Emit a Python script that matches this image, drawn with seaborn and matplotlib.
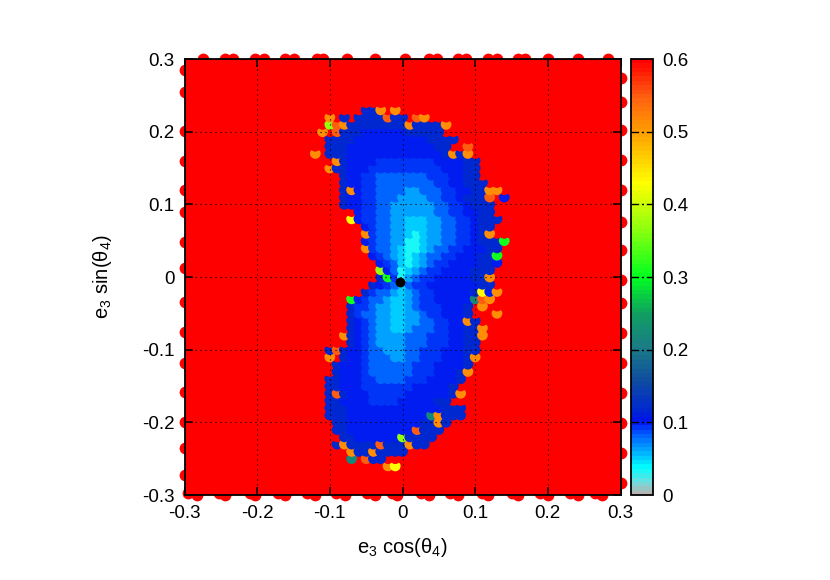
import matplotlib
matplotlib.use("Agg")
import matplotlib.pyplot as plt
from matplotlib.cm import ScalarMappable
from matplotlib.colors import LinearSegmentedColormap, Normalize
import pandas as pd
import seaborn as sns

# Rows of the map: one string per y (in 0.01 steps),
# first character is x = -0.13, one character per 0.01 in x.
ROW_Y_TOP = 24
ROW_X_LEFT = -13
ROWS = [
    "",
    "........ggO.O",
    "...O.g.ggggRgg.RO",
    "...LROggggggggOggggO",
    "..O.Rgggffffffggggg",
    "...ggggffffffffffgggg",
    "...gggffffffffffffgg..R",
    ".O.gggfffffffffffffgOgO",
    "....Ogffffeeeeeeeeffffgg",
    "...Oggfffeeeeeeeeeefffgg",
    ".....gffeedddddddeeeffgg",
    ".....gffeeddddddddeeffggg",
    ".....gOfeeddddccdddeeffggOO",
    ".....gffeedddccccddeefgggR.f",
    ".....gffeeddccccccddeefggg",
    ".......feeddccccccddeeffgg",
    "......Yfeeddccbbbccddeefggg",
    "........feddccbbbccddeefgg",
    "........OeddccbabccddeefgO",
    "........feddccaabccddeefgggG",
    "........Oeddcbaabcddeefffgg",
    ".........fedcbabcddeefffggG",
    "..........fedbabcdeeffffggf",
    "..........Lfdabcdeeffffggg",
    "..........gGeacdeefffffggO",
    ".........gfedbdeefffffffgg",
    "........geddcbcdeefffffgYfO",
    "......GfeddcbbcdeefffffTRO",
    "......geedccbbcdeeefffg.O",
    "......geddccbbccdeefffg...O",
    "......gfedccbbccddeeffOg",
    "......gfedccbbcdddeeffggO",
    ".....OgfedccccdddeeeffggO",
    "......gfedccccdddeeeffgg",
    "...gRgffeddcccddeeefffgg",
    "...O.gffedddccddeeefffgO",
    "....gfffeddddddeeeffffg",
    "....gfffeddddddeeefffgO",
    "...ggfffeeddddeeeffffg",
    "...ggfffeeeeeeefffffg",
    "...gRgfffeeeeeffffffgO",
    "...ggffffeeeefffffgg",
    "...gggfffffffffffffggg",
    "...gggfffffffffffTOggg",
    "....ggffffffffffggOg",
    "....ggfffffffffRggg",
    ".....ggffffffLgggg",
    "....gOggggRgggOgg",
    "......OggOgggg",
    "......T.Rgg",
    "...........OY",
]
ROW_LENGTH = 29
LEVELS = {
    ".": 0.6, "a": 0.035, "b": 0.05, "c": 0.065, "d": 0.08, "e": 0.09,
    "f": 0.1, "g": 0.115, "T": 0.22, "G": 0.31, "L": 0.37, "Y": 0.43,
    "O": 0.515, "R": 0.55,
}

# Red points poking out past the frame
TOP_X = [-0.274, -0.244, -0.233, -0.203, -0.191, -0.162, -0.150, -0.118, -0.109,
         -0.077, -0.038, 0.003, 0.036, 0.047, 0.077, 0.088, 0.118, 0.130, 0.159,
         0.168, 0.200, 0.241, 0.283]
BOTTOM_X = [-0.283, -0.244, -0.203, -0.162, -0.120, -0.079, -0.038, -0.008, 0.036,
            0.077, 0.118, 0.159, 0.200, 0.241, 0.274]
BOTTOM_X2 = [-0.295, -0.253, -0.210, -0.171, -0.132, -0.091, -0.049, -0.015, 0.026,
             0.065, 0.109, 0.150, 0.189, 0.230, 0.265]
LEFT_Y = [0.285, 0.255, 0.201, 0.160, 0.120, 0.089, 0.048, 0.012, -0.034, -0.076,
          -0.118, -0.158, -0.200, -0.235, -0.272]
RIGHT_Y = [0.274, 0.241, 0.202, 0.161, 0.120, 0.076, 0.037, -0.004, -0.036, -0.077,
           -0.118, -0.160, -0.201, -0.242, -0.283]
BLACK_X = [-0.004]
BLACK_Y = [-0.007]

MAIN_TICKS = [-0.3, -0.2, -0.1, 0, 0.1, 0.2, 0.3]
MAIN_LABELS = ["-0.3", "-0.2", "-0.1", "0", "0.1", "0.2", "0.3"]
CB_TICKS = [0, 0.1, 0.2, 0.3, 0.4, 0.5, 0.6]
CB_LABELS = ["0", "0.1", "0.2", "0.3", "0.4", "0.5", "0.6"]
X_LABEL = "e$_3$ cos(θ$_4$)"
Y_LABEL = "e$_3$ sin(θ$_4$)"

PALETTE = [
    (0.0, "#b4b4b4"), (0.015, "#70dcdc"), (0.035, "#00ffff"), (0.055, "#00b4ff"),
    (0.08, "#0060ff"), (0.1, "#0010ee"), (0.115, "#0028d0"), (0.16, "#10509c"),
    (0.2, "#1a7a88"), (0.25, "#10a060"), (0.3, "#00ff20"), (0.36, "#80ff10"),
    (0.43, "#ffff00"), (0.5, "#ffa000"), (0.55, "#ff6010"), (0.6, "#ff0000"),
]

sns.set_theme(style="white", rc={"axes.unicode_minus": False})
plt.rcParams["font.family"] = ["Liberation Sans", "DejaVu Sans"]
plt.rcParams["mathtext.fontset"] = "custom"
plt.rcParams["mathtext.rm"] = "Liberation Sans"
plt.rcParams["mathtext.default"] = "regular"

W, H = 830, 580
MARK = 60
fig = plt.figure(figsize=(W / 100, H / 100), dpi=100)
ax = fig.add_axes([184.5 / W, (H - 495) / H, 436 / W, 436 / H])
cax = fig.add_axes([631 / W, (H - 495) / H, 22 / W, 436 / H])

cmap = LinearSegmentedColormap.from_list("pal", [(v / 0.6, c) for v, c in PALETTE], N=100)
norm = Normalize(0, 0.6)

records = []
for i, row in enumerate(ROWS):
    y = (ROW_Y_TOP - i) / 100
    for j, ch in enumerate(row.ljust(ROW_LENGTH, ".")):
        records.append({"x": (ROW_X_LEFT + j) / 100, "y": y, "v": LEVELS[ch], "coloured": ch != "."})
# Lower rows first so each row overlaps the one beneath; red goes first within a row
cells = pd.DataFrame(records).sort_values(["y", "coloured"], kind="stable")

ax.set_facecolor("#ff0000")
edges = pd.DataFrame(
    {"x": TOP_X + BOTTOM_X + BOTTOM_X2 + [-0.3] * len(LEFT_Y) + [0.3] * len(RIGHT_Y),
     "y": [0.3] * len(TOP_X) + [-0.3] * len(BOTTOM_X) + [-0.297] * len(BOTTOM_X2) + LEFT_Y + RIGHT_Y}
)
sns.scatterplot(data=edges, x="x", y="y", color="#ff0000", s=72, linewidth=0,
                clip_on=False, legend=False, ax=ax)
sns.scatterplot(data=cells, x="x", y="y", hue="v", palette=cmap, hue_norm=(0, 0.6),
                s=MARK, linewidth=0, legend=False, ax=ax)
sns.scatterplot(x=BLACK_X, y=BLACK_Y, color="black", s=50, linewidth=0, zorder=5,
                legend=False, ax=ax)

ax.set_xlim(-0.3, 0.3)
ax.set_ylim(-0.3, 0.3)
ax.set_xticks(MAIN_TICKS, MAIN_LABELS)
ax.set_yticks(MAIN_TICKS, MAIN_LABELS)
ax.set_axisbelow(False)
ax.grid(True, color="black", linestyle=(0, (1, 3.5)), linewidth=0.8)
ax.tick_params(direction="in", length=6, width=1.1, color="black", top=True, right=True,
               bottom=True, left=True, labelsize=13.5, labelcolor="black", pad=7)
for s in ax.spines.values():
    s.set_visible(True)
    s.set_color("black")
    s.set_linewidth(1.3)
ax.set_xlabel(X_LABEL, fontsize=14.5, color="black", labelpad=10)
ax.set_ylabel(Y_LABEL, fontsize=14.5, color="black", labelpad=20)

cb = fig.colorbar(ScalarMappable(norm=norm, cmap=cmap), cax=cax)
cb.set_ticks(CB_TICKS, labels=CB_LABELS)
cax.tick_params(length=0, labelsize=13.5, labelcolor="black", pad=7)
for v in CB_TICKS[1:-1]:
    cax.axhline(v, color="black", linewidth=1.0, linestyle=(0, (5.5, 2, 1.5, 2)))
cb.outline.set_edgecolor("black")
cb.outline.set_linewidth(1.3)

fig.savefig("out.png", dpi=100, facecolor="white")
